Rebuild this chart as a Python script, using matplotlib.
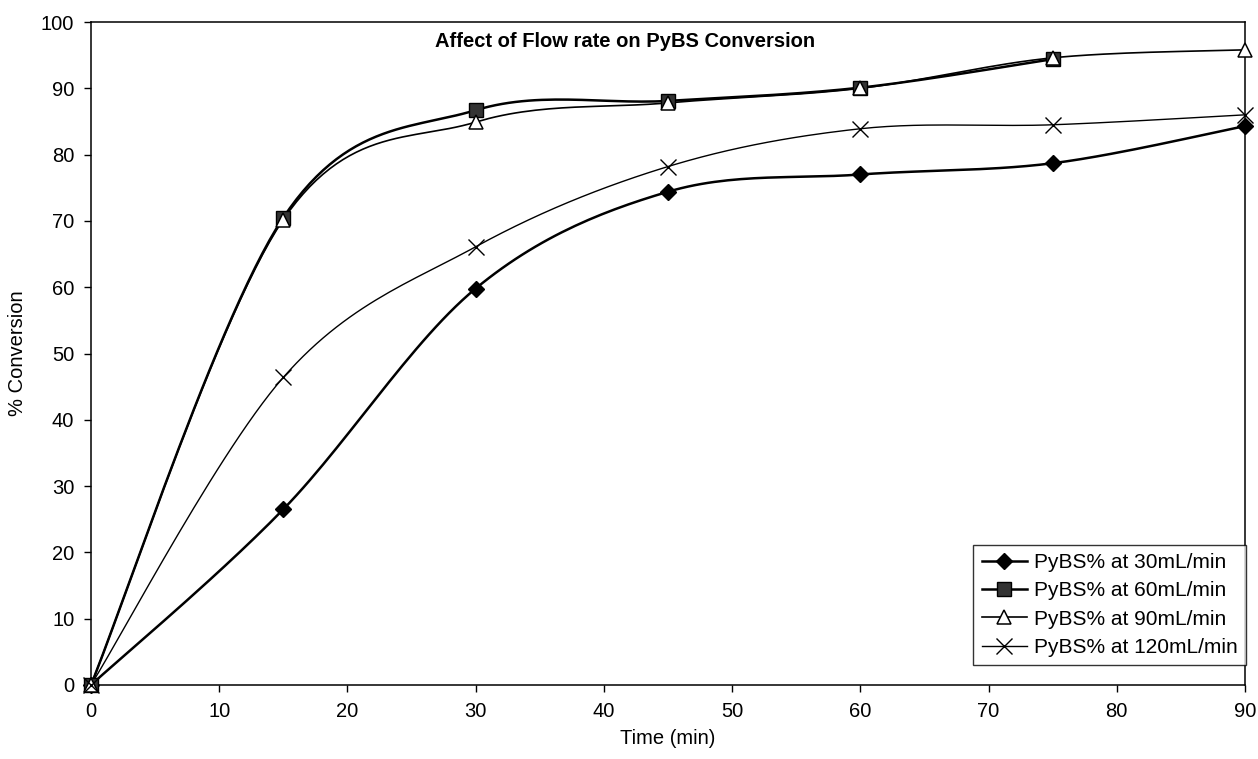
import numpy as np
import matplotlib
matplotlib.use("Agg")
from matplotlib import pyplot as plt

plt.rcParams['font.family'] = ['Liberation Sans', 'DejaVu Sans']

# time points (min)
time = [0, 15, 30, 45, 60, 75, 90]
time_60 = [0, 15, 30, 45, 60, 75]

conv_30 = [0, 26.5, 59.8, 74.4, 77.0, 78.7, 84.3]
conv_60 = [0, 70.5, 86.7, 88.1, 90.1, 94.4]
conv_90 = [0, 70.2, 84.9, 87.8, 90.0, 94.6, 95.8]
conv_120 = [0, 46.4, 66.1, 78.2, 83.9, 84.5, 86.0]

labels = ["PyBS% at 30mL/min", "PyBS% at 60mL/min",
          "PyBS% at 90mL/min", "PyBS% at 120mL/min"]


def smooth(x, y, sx=90.0, sy=100.0 * 663 / 1154, n=30):
  """ Excel-style smoothed line through the points (Bezier, tension 1/6) """
  p = np.column_stack([np.asarray(x, float) / sx, np.asarray(y, float) / sy])
  out = [p[0]]
  for i in range(len(p) - 1):
    p0 = p[i - 1] if i > 0 else p[i]
    p3 = p[i + 2] if i + 2 < len(p) else p[i + 1]
    c1 = p[i] + (p[i + 1] - p0) / 6
    c2 = p[i + 1] - (p3 - p[i]) / 6
    t = np.linspace(0, 1, n)[1:, None]
    seg = ((1 - t) ** 3 * p[i] + 3 * (1 - t) ** 2 * t * c1
           + 3 * (1 - t) * t ** 2 * c2 + t ** 3 * p[i + 1])
    out.extend(seg)
  out = np.array(out)
  return out[:, 0] * sx, out[:, 1] * sy


fig = plt.figure(figsize=(12.58, 7.59), dpi=100)
ax = fig.add_axes([0.0723, 0.0975, 0.9174, 0.8735])

series = [
  (time, conv_30, dict(marker='D', markersize=8, mfc='black', mec='black'), 1.8),
  (time_60, conv_60, dict(marker='s', markersize=9.5, mfc='#333333', mec='black'), 1.8),
  (time, conv_90, dict(marker='^', markersize=10, mfc='white', mec='black', mew=1.1), 1.2),
  (time, conv_120, dict(marker='x', markersize=11, mfc='none', mec='black', mew=1.0), 1.0),
]

for (x, y, mk, lw), lab in zip(series, labels):
  sx, sy = smooth(x, y)
  ax.plot(sx, sy, color='black', lw=lw, zorder=2)
  ax.plot(x, y, ls='none', zorder=3, clip_on=False, **mk)
  ax.plot([], [], color='black', lw=lw, label=lab, **mk)

ax.set_xlim(0, 90)
ax.set_ylim(0, 100)
ax.set_xticks(range(0, 91, 10))
ax.set_yticks(range(0, 101, 10))
ax.tick_params(direction='out', length=5, width=1, labelsize=14.5, pad=7)
ax.tick_params(top=False, right=False)
for s in ax.spines.values():
  s.set_linewidth(1.1)

ax.set_xlabel('Time (min)', fontsize=14.5, labelpad=6)
ax.set_ylabel('% Conversion', fontsize=14.5, labelpad=10)
ax.text(0.463, 0.985, 'Affect of Flow rate on PyBS Conversion',
        transform=ax.transAxes, ha='center', va='top',
        fontsize=14.5, fontweight='bold')

leg = ax.legend(loc='lower right', bbox_to_anchor=(1.006, 0.02), fontsize=15,
                frameon=True, fancybox=False, edgecolor='black',
                handlelength=2.2, handletextpad=0.3, borderpad=0.4,
                labelspacing=0.45, borderaxespad=0.3)
leg.get_frame().set_linewidth(1.0)

fig.savefig('out.png', dpi=100)
